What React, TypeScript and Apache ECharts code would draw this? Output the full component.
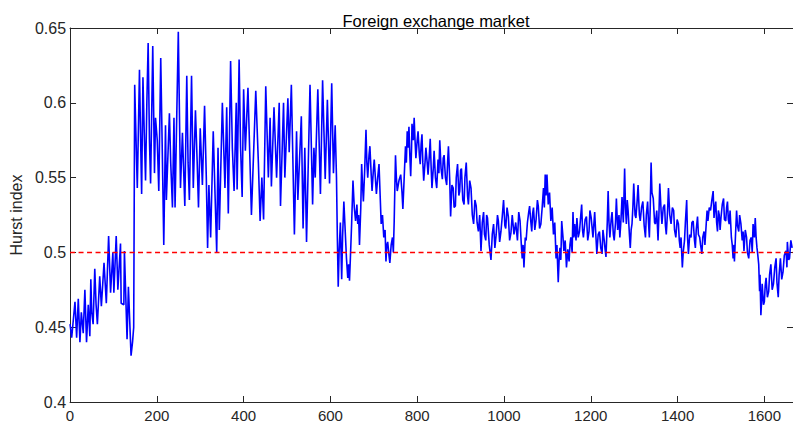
import React, { useEffect, useRef } from "react";
import * as echarts from "echarts";

const chartTitle = "Foreign exchange market";
const yAxisTitle = "Hurst index";
const xTicks = [0, 200, 400, 600, 800, 1000, 1200, 1400, 1600];
const yTicks = [0.4, 0.45, 0.5, 0.55, 0.6, 0.65];
const xMax = 1666;
const threshold = 0.5;

// [day index, Hurst index]
const hurstEarly: [number, number][] = [
  [0, 0.452], [3.8, 0.443], [7.6, 0.455], [11.4, 0.467], [15.2, 0.443], [19, 0.469], [22.8, 0.44],
  [26, 0.46], [30.4, 0.446], [34.2, 0.475], [38, 0.44], [42, 0.465], [45.6, 0.444], [47.9, 0.482],
  [50, 0.46], [53.2, 0.452], [57, 0.489], [60, 0.465], [63, 0.452], [68.4, 0.484], [72.2, 0.464],
  [78.3, 0.493], [83.6, 0.466], [88.9, 0.511], [93.4, 0.473], [98.7, 0.5], [101, 0.473],
  [106.4, 0.511], [110.2, 0.475], [116.3, 0.506], [117.8, 0.466], [124, 0.465], [125.3, 0.501],
  [131.4, 0.442], [134.5, 0.477], [140.6, 0.431], [144, 0.44], [146.7, 0.45],
];

const hurstHigh: [number, number][] = [
  [149, 0.612], [153, 0.565], [155, 0.543], [158, 0.59], [160, 0.622], [163, 0.57], [165, 0.539],
  [168, 0.617], [171, 0.58], [174, 0.548], [177, 0.6], [180, 0.64], [183, 0.575], [185.6, 0.546],
  [190.6, 0.638], [194.6, 0.553], [197, 0.59], [201, 0.575], [204.5, 0.541], [209, 0.63],
  [213, 0.56], [216, 0.505], [220, 0.585], [222, 0.535], [229, 0.593], [232, 0.56], [236, 0.53],
  [239.5, 0.59], [242, 0.53], [249.5, 0.6475], [254.5, 0.543], [259, 0.58], [264.5, 0.531],
  [269, 0.618], [272, 0.56], [275, 0.535], [280, 0.618], [284, 0.543], [289, 0.595], [293, 0.56],
  [296, 0.53], [300, 0.583], [305, 0.545], [310, 0.598], [314, 0.55], [317, 0.503], [320, 0.545],
  [324, 0.51], [330, 0.581], [334, 0.54], [338, 0.5], [341, 0.57], [344, 0.515], [351, 0.6],
  [357, 0.543], [361, 0.597], [364.7, 0.526], [370, 0.628], [374, 0.57], [378, 0.541], [383, 0.6],
  [385, 0.542], [389.6, 0.629], [393, 0.57], [396.6, 0.537], [400, 0.609], [404, 0.568],
  [410, 0.61], [418, 0.525], [428, 0.608], [434, 0.56], [438, 0.521], [442, 0.55], [446, 0.522],
  [451, 0.611], [457, 0.55], [461, 0.59], [464, 0.544], [470, 0.597], [476, 0.55], [482, 0.6],
  [485, 0.531], [492, 0.6], [495, 0.55], [502, 0.603], [505, 0.567], [510, 0.612], [517, 0.512],
  [522, 0.581], [525, 0.535], [533, 0.591], [537, 0.516], [541, 0.57], [545, 0.507], [553, 0.612],
  [559, 0.532], [562, 0.57], [565, 0.55], [571, 0.609], [577, 0.539], [582, 0.615], [588, 0.549],
  [593, 0.602], [598, 0.546], [603, 0.613], [607, 0.553], [611, 0.585], [614, 0.55],
];

const hurstMiddle: [number, number][] = [
  [616, 0.51], [618, 0.477], [620, 0.5], [623, 0.52], [624.5, 0.5], [626, 0.482], [628, 0.51],
  [631, 0.534], [634, 0.515], [637, 0.496], [640, 0.483], [642, 0.492], [644, 0.481], [646, 0.496],
  [649, 0.52], [652, 0.548], [655, 0.53], [658, 0.521], [661, 0.532], [663, 0.519], [665, 0.525],
  [667, 0.505], [670, 0.53], [672, 0.559], [674, 0.545], [676, 0.534], [679, 0.555], [682, 0.582],
  [684, 0.56], [686, 0.55], [689, 0.565], [691, 0.571], [694, 0.552], [696, 0.541], [699, 0.555],
  [701, 0.562], [704, 0.548], [706, 0.539], [709, 0.55], [712, 0.559], [715, 0.535], [717, 0.519],
  [720, 0.525], [723, 0.51], [726, 0.515], [728, 0.494], [730, 0.505], [732, 0.507], [735, 0.498],
  [737, 0.493], [740, 0.505], [743, 0.51], [745, 0.5], [747, 0.521], [750, 0.565], [752, 0.55],
  [754, 0.541], [758, 0.548], [762, 0.552], [765, 0.54], [767, 0.529], [770, 0.55], [773, 0.571],
  [775, 0.56], [777, 0.581], [779, 0.57], [781, 0.584], [783, 0.565], [785, 0.551], [787, 0.57],
  [788, 0.586], [791, 0.575], [793, 0.59], [795, 0.575], [797, 0.563], [800, 0.575], [802, 0.581],
  [805, 0.565], [807, 0.559], [809, 0.572], [811, 0.579], [813, 0.56], [815, 0.548], [818, 0.56],
  [820, 0.57], [823, 0.56], [825, 0.552], [828, 0.565], [830, 0.576], [832, 0.558], [834, 0.543],
  [837, 0.556], [839, 0.568], [842, 0.55], [845, 0.543], [848, 0.562], [850, 0.553], [852, 0.575],
  [855, 0.556], [858, 0.549], [860, 0.563], [862, 0.565], [865, 0.55], [868, 0.545], [870, 0.56],
  [872, 0.571], [875, 0.548], [877, 0.524], [880, 0.545], [883, 0.543], [885, 0.53], [888, 0.531],
  [890, 0.55], [893, 0.559], [896, 0.538], [898, 0.541], [900, 0.555], [902, 0.556], [905, 0.535],
  [908, 0.532], [910, 0.55], [913, 0.56], [916, 0.538], [918, 0.532], [921, 0.548], [924, 0.543],
  [927, 0.525], [930, 0.519], [933, 0.535], [936, 0.531], [938, 0.52], [941, 0.514], [944, 0.525],
  [947, 0.501], [950, 0.52], [953, 0.527], [955, 0.512], [958, 0.508], [960, 0.525], [962, 0.523],
  [966, 0.505], [970, 0.495], [973, 0.512], [976, 0.519], [979, 0.503], [982, 0.512], [985, 0.525],
  [987, 0.521], [990, 0.507], [993, 0.514], [996, 0.524], [999, 0.535], [1002, 0.518],
  [1004, 0.516], [1007, 0.53], [1010, 0.524], [1013, 0.508], [1016, 0.513], [1019, 0.525],
  [1023, 0.512], [1027, 0.52], [1031, 0.508], [1034, 0.527], [1037, 0.521], [1040, 0.505],
  [1042, 0.496], [1044, 0.505], [1046, 0.49], [1049, 0.51], [1051, 0.508], [1054, 0.52],
  [1057, 0.527],
];

const hurstLate: [number, number][] = [
  [1059, 0.531], [1062, 0.52], [1064, 0.514], [1066, 0.526], [1068, 0.53], [1071, 0.515],
  [1074, 0.522], [1077, 0.535], [1079, 0.531], [1082, 0.516], [1085, 0.519], [1088, 0.53],
  [1091, 0.543], [1093, 0.53], [1095, 0.552], [1097, 0.538], [1099, 0.552], [1102, 0.532],
  [1105, 0.54], [1108, 0.521], [1111, 0.53], [1114, 0.512], [1117, 0.52], [1120, 0.496],
  [1122, 0.505], [1125, 0.48], [1127, 0.495], [1129, 0.503], [1131, 0.495], [1133, 0.521],
  [1136, 0.51], [1138, 0.501], [1141, 0.508], [1144, 0.49], [1147, 0.502], [1150, 0.494],
  [1152, 0.505], [1154, 0.51], [1157, 0.5], [1159, 0.527], [1161, 0.51], [1163, 0.519],
  [1166, 0.508], [1168, 0.523], [1171, 0.51], [1174, 0.514], [1177, 0.525], [1179, 0.532],
  [1181, 0.515], [1183, 0.51], [1187, 0.522], [1190, 0.524], [1193, 0.508], [1196, 0.514],
  [1198, 0.528], [1201, 0.523], [1205, 0.51], [1209, 0.527], [1211, 0.515], [1214, 0.499],
  [1217, 0.512], [1220, 0.514], [1223, 0.503], [1226, 0.499], [1228, 0.515], [1231, 0.508],
  [1233, 0.502], [1235, 0.497], [1238, 0.52], [1240, 0.541], [1242, 0.52], [1244, 0.51],
  [1247, 0.522], [1249, 0.527], [1252, 0.512], [1254, 0.508], [1257, 0.52], [1259, 0.536],
  [1262, 0.515], [1265, 0.525], [1267, 0.51], [1269, 0.519], [1271, 0.53], [1272, 0.537],
  [1275, 0.52], [1278, 0.556], [1280, 0.53], [1282, 0.519], [1284, 0.535], [1286, 0.528],
  [1289, 0.512], [1291, 0.503], [1293, 0.515], [1295, 0.519], [1297, 0.53], [1299, 0.546],
  [1302, 0.525], [1304, 0.523], [1307, 0.535], [1309, 0.545], [1312, 0.525], [1314, 0.521],
  [1317, 0.53], [1320, 0.534], [1323, 0.518], [1326, 0.51], [1328, 0.525], [1331, 0.534],
  [1333, 0.52], [1335, 0.51], [1337, 0.53], [1339, 0.56], [1341, 0.54], [1344, 0.536],
  [1347, 0.52], [1349, 0.519], [1352, 0.528], [1355, 0.508], [1357, 0.525], [1359, 0.546],
  [1362, 0.528], [1364, 0.519], [1367, 0.53], [1370, 0.532], [1372, 0.518], [1374, 0.512],
  [1377, 0.528], [1379, 0.543], [1382, 0.525], [1385, 0.519], [1388, 0.53], [1391, 0.528],
  [1393, 0.515], [1396, 0.51], [1399, 0.522], [1402, 0.519], [1404, 0.508], [1406, 0.503],
  [1408, 0.51], [1411, 0.49], [1413, 0.5], [1416, 0.508], [1418, 0.52], [1421, 0.535],
  [1423, 0.51], [1425, 0.499], [1428, 0.512], [1431, 0.51], [1433, 0.52], [1436, 0.521],
  [1439, 0.508], [1441, 0.503], [1443, 0.515], [1446, 0.524], [1448, 0.512], [1451, 0.51],
  [1453, 0.505], [1456, 0.499], [1458, 0.51], [1461, 0.514], [1463, 0.505], [1466, 0.519],
  [1468, 0.528], [1470, 0.521], [1473, 0.53], [1476, 0.528], [1479, 0.535], [1482, 0.541],
  [1484, 0.523], [1486, 0.53], [1488, 0.534], [1490, 0.52], [1492, 0.514], [1494, 0.528],
  [1496, 0.525], [1498, 0.515], [1500, 0.523], [1503, 0.532], [1506, 0.536], [1508, 0.522],
  [1511, 0.521], [1513, 0.53], [1515, 0.534], [1517, 0.522], [1519, 0.519], [1521, 0.528],
  [1524, 0.51], [1526, 0.505], [1528, 0.496], [1530, 0.505], [1531, 0.494], [1534, 0.515],
  [1536, 0.528], [1538, 0.518], [1541, 0.514], [1543, 0.525], [1546, 0.519], [1549, 0.508],
  [1551, 0.514], [1553, 0.501], [1556, 0.515], [1559, 0.51], [1561, 0.5], [1564, 0.496],
  [1567, 0.508], [1570, 0.51], [1572, 0.5], [1574, 0.519], [1577, 0.51], [1579, 0.523],
  [1581, 0.51], [1583, 0.503], [1585, 0.498], [1587, 0.492], [1589, 0.474], [1590, 0.485],
  [1592, 0.458], [1594, 0.47], [1595, 0.479], [1598, 0.465], [1600, 0.467], [1602, 0.478],
  [1604, 0.483], [1607, 0.47], [1610, 0.474], [1612, 0.485], [1615, 0.492], [1618, 0.475],
  [1621, 0.479], [1624, 0.49], [1627, 0.496], [1629, 0.48], [1632, 0.47], [1634, 0.485],
  [1637, 0.496], [1640, 0.482], [1643, 0.487], [1646, 0.498], [1650, 0.501], [1652, 0.49],
  [1653, 0.507], [1656, 0.495], [1658, 0.496], [1661, 0.508], [1664, 0.503],
];

const FONT = "'Liberation Sans', Arial, Helvetica, sans-serif";
const AX = "#262626";

export default function App() {
  const ref = useRef<HTMLDivElement>(null);
  useEffect(() => {
    if (!ref.current) return;
    const chart = echarts.init(ref.current, null, { renderer: "svg" });
    const hurst = [...hurstEarly, ...hurstHigh, ...hurstMiddle, ...hurstLate];
    const xFmt = (v: number) => (xTicks.includes(v) ? String(v) : "");
    const yFmt = (v: number) => {
      const r = parseFloat(v.toFixed(2));
      return yTicks.some((t) => Math.abs(t - r) < 1e-9) ? String(r) : "";
    };
    const line = { show: true, onZero: false, lineStyle: { color: AX, width: 1 } };
    chart.setOption({
      animation: false,
      backgroundColor: "#ffffff",
      title: {
        text: chartTitle,
        left: 431,
        top: 7,
        textAlign: "center",
        textStyle: { fontFamily: FONT, fontSize: 16.5, fontWeight: "normal", color: "#000" },
      },
      grid: { left: 65, top: 28, width: 731, height: 374, containLabel: false },
      xAxis: [
        {
          type: "value", min: 0, max: xMax, interval: 200, position: "bottom",
          axisLine: line,
          axisTick: { show: true, inside: true, length: 6, lineStyle: { color: AX } },
          axisLabel: { show: true, formatter: xFmt, color: AX, fontFamily: FONT, fontSize: 15, margin: 6, showMaxLabel: false },
          splitLine: { show: false },
        },
        {
          type: "value", min: 0, max: xMax, interval: 200, position: "top",
          axisLine: line,
          axisTick: { show: true, inside: true, length: 6, lineStyle: { color: AX } },
          axisLabel: { show: false },
          splitLine: { show: false },
        },
      ],
      yAxis: [
        {
          type: "value", min: 0.4, max: 0.65, interval: 0.05, position: "left",
          name: yAxisTitle, nameLocation: "middle", nameGap: 36,
          nameTextStyle: { fontFamily: FONT, fontSize: 16, color: AX },
          axisLine: line,
          axisTick: { show: true, inside: true, length: 6, lineStyle: { color: AX } },
          axisLabel: { show: true, formatter: yFmt, color: AX, fontFamily: FONT, fontSize: 16, margin: 4 },
          splitLine: { show: false },
        },
        {
          type: "value", min: 0.4, max: 0.65, interval: 0.05, position: "right",
          axisLine: line,
          axisTick: { show: true, inside: true, length: 6, lineStyle: { color: AX } },
          axisLabel: { show: false },
          splitLine: { show: false },
        },
      ],
      series: [
        {
          type: "line",
          name: "Hurst",
          data: hurst,
          showSymbol: false,
          symbol: "none",
          lineStyle: { color: "#0000ff", width: 1.6 },
          z: 2,
        },
        {
          type: "line",
          name: "H = 0.5",
          data: [[0, threshold], [xMax, threshold]],
          showSymbol: false,
          symbol: "none",
          lineStyle: { color: "#ff0000", width: 1.5, type: [5, 3.5] },
          z: 3,
        },
      ],
    });
    return () => chart.dispose();
  }, []);
  return (
    <div
      ref={ref}
      style={{ position: "absolute", left: 0, top: 0, width: 793, height: 423, background: "#fff" }}
    />
  );
}
